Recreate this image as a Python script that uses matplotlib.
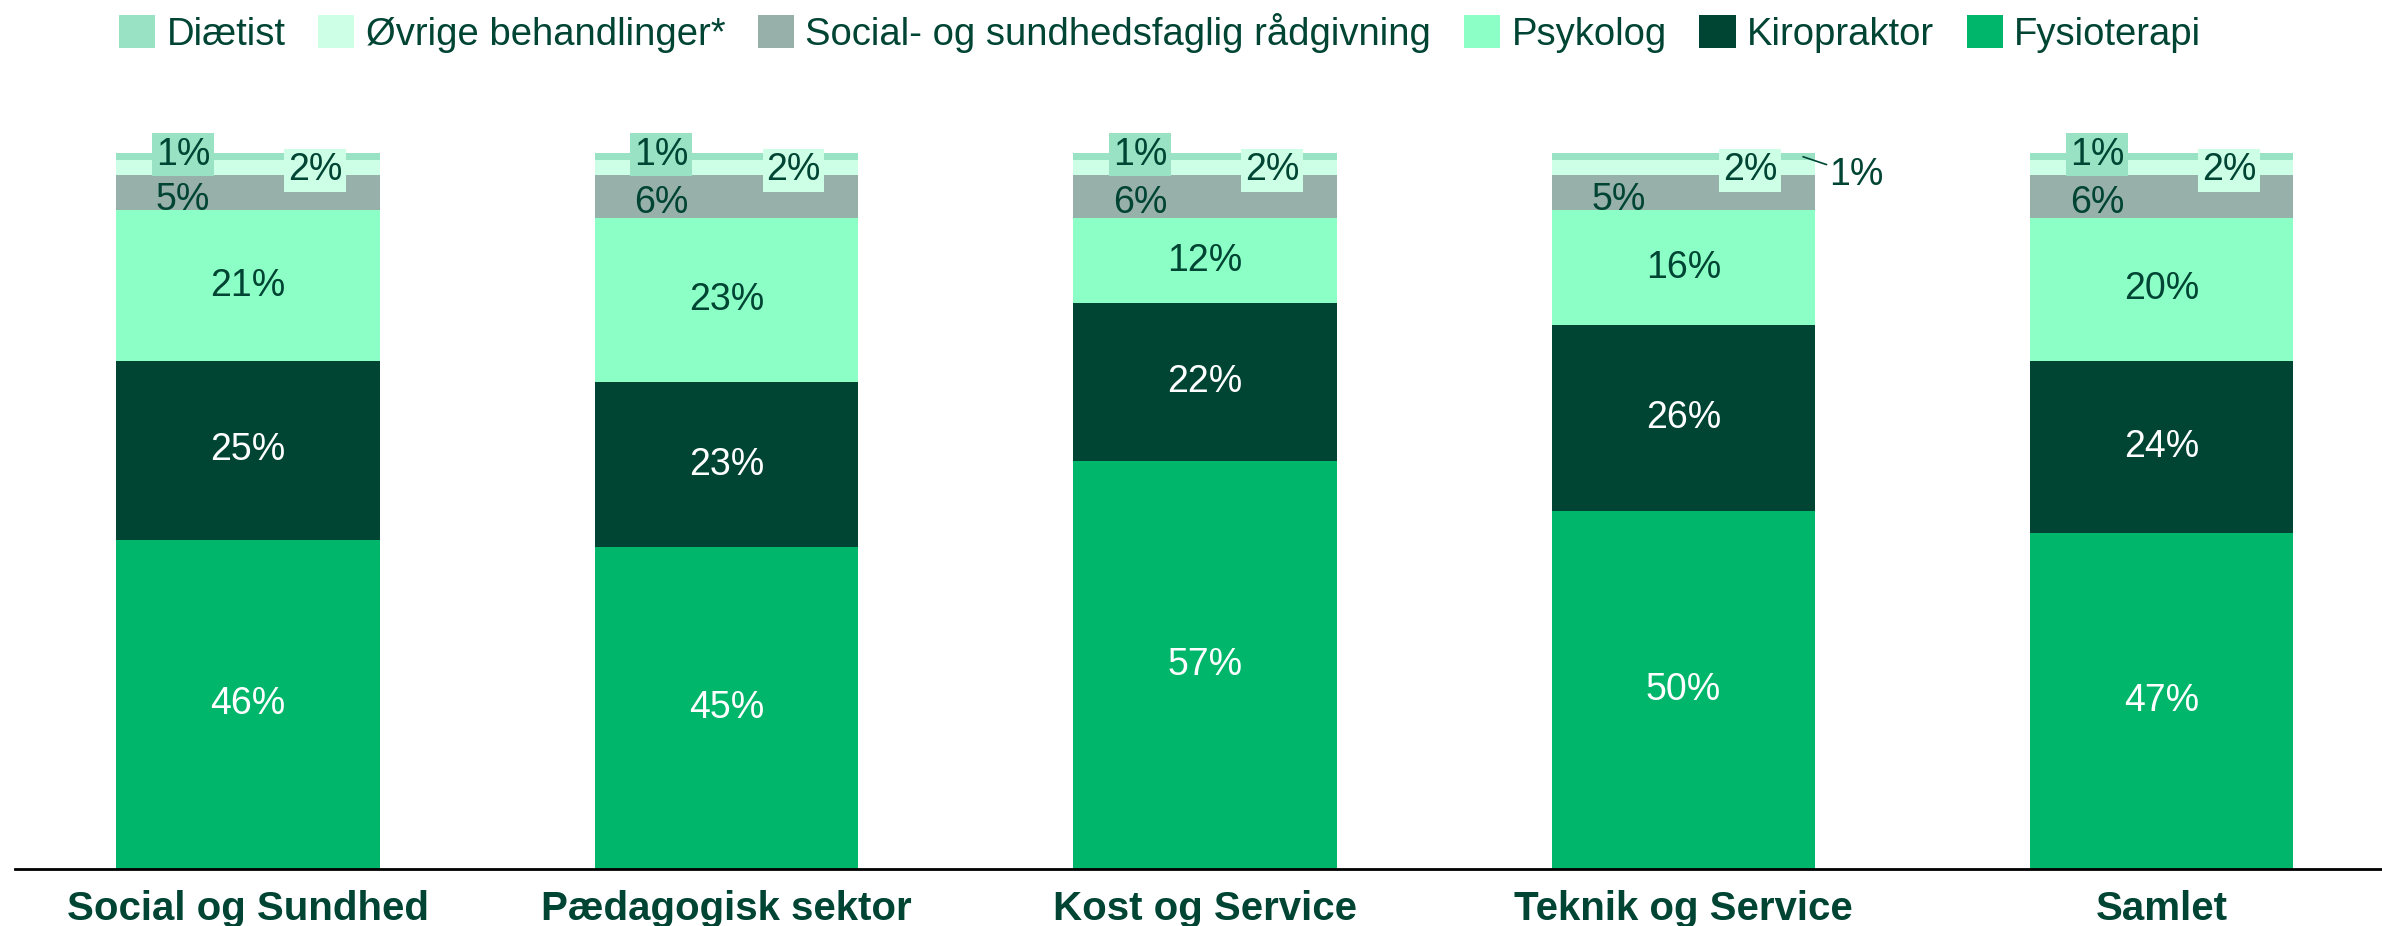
import matplotlib.pyplot as plt
import numpy as np

plt.rcParams['font.family'] = ['Liberation Sans', 'DejaVu Sans']

categories = ['Social og Sundhed', 'Pædagogisk sektor', 'Kost og Service',
              'Teknik og Service', 'Samlet']
series = ['Fysioterapi', 'Kiropraktor', 'Psykolog',
          'Social- og sundhedsfaglig rådgivning', 'Øvrige behandlinger*', 'Diætist']
fysioterapi = [46, 45, 57, 50, 47]
kiropraktor = [25, 23, 22, 26, 24]
psykolog = [21, 23, 12, 16, 20]
social = [5, 6, 6, 5, 6]
oevrige = [2, 2, 2, 2, 2]
diaetist = [1, 1, 1, 1, 1]

colors = ['#00B66A', '#004433', '#8CFFC6', '#98B0AA', '#CCFFE6', '#99E2C4']
txt = '#004433'

values = [fysioterapi, kiropraktor, psykolog, social, oevrige, diaetist]

fig = plt.figure(figsize=(23.82, 9.26), dpi=100)
ax = fig.add_axes([0.0063, 0.0616, 0.9937, 0.773])
x = np.arange(len(categories))
w = 0.55
bottom = np.zeros(len(categories))
for vals, col, name in zip(values, colors, series):
    ax.bar(x, vals, w, bottom=bottom, color=col, label=name, zorder=2)
    bottom += np.array(vals)

fs = 27
# labels for the three big segments, centred
for k in range(3):
    starts = np.sum(values[:k], axis=0) if k else np.zeros(len(x))
    for i in range(len(x)):
        v = values[k][i]
        c = 'white' if k < 2 else txt
        ax.text(x[i], starts[i] + v / 2, f'{v}%', ha='center', va='center',
                fontsize=fs, color=c, zorder=3)

# small segments
base_soc = np.sum(values[:3], axis=0)
for i in range(len(x)):
    ax.text(x[i] - 0.136, base_soc[i] + social[i] / 2 - 1.0, f'{social[i]}%',
            ha='center', va='center', fontsize=fs, color=txt, zorder=3)
    ax.text(x[i] + 0.14, 97.6, f'{oevrige[i]}%', ha='center', va='center',
            fontsize=fs, color=txt, zorder=4,
            bbox=dict(boxstyle='square,pad=0.1', fc=colors[4], ec='none'))
    if categories[i] == 'Teknik og Service':
        ax.annotate(f'{diaetist[i]}%', xy=(x[i] + 0.25, 99.5),
                    xytext=(x[i] + 0.305, 97.0), ha='left', va='center',
                    fontsize=fs, color=txt, zorder=4,
                    arrowprops=dict(arrowstyle='-', color=txt, lw=1.2,
                                    shrinkA=0, shrinkB=0))
    else:
        ax.text(x[i] - 0.136, 99.8, f'{diaetist[i]}%', ha='center', va='center',
                fontsize=fs, color=txt, zorder=4,
                bbox=dict(boxstyle='square,pad=0.1', fc=colors[5], ec='none'))

ax.set_ylim(0, 100)
ax.set_xlim(-0.487, 4.46)
ax.set_yticks([])
ax.set_xticks(x)
ax.set_xticklabels(categories, fontsize=29, fontweight='bold', color=txt)
ax.tick_params(axis='x', length=0, pad=15)
for s in ['top', 'right', 'left']:
    ax.spines[s].set_visible(False)
ax.spines['bottom'].set_linewidth(2)
ax.spines['bottom'].set_color('black')

h, l = ax.get_legend_handles_labels()
order = [5, 4, 3, 2, 1, 0]
leg = fig.legend([h[j] for j in order], [l[j] for j in order], loc='upper center',
                 bbox_to_anchor=(0.487, 1.005), ncol=6, frameon=False, fontsize=27.5,
                 handlelength=0.95, handleheight=0.95, handletextpad=0.3,
                 columnspacing=0.85, borderaxespad=0.05)
for t in leg.get_texts():
    t.set_color(txt)

fig.savefig('out.png', dpi=100)
